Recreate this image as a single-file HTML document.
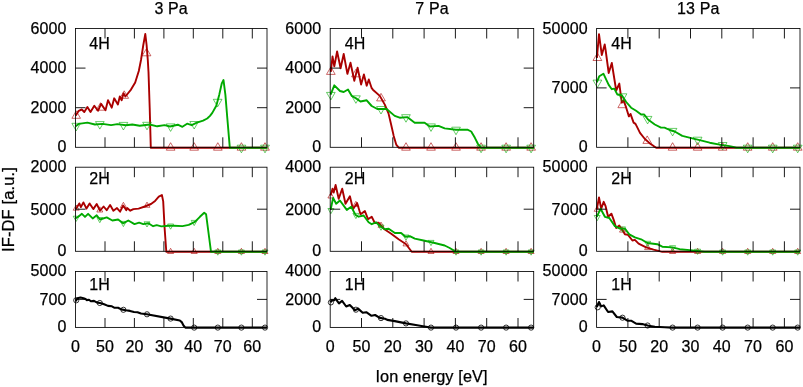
<!DOCTYPE html>
<html lang="en"><head><meta charset="utf-8"><title>IF-DF</title>
<style>html,body{margin:0;padding:0;background:#fff}svg{display:block}text{font-family:"Liberation Sans",Arial,Helvetica,sans-serif;font-size:16px;fill:#000;stroke:#000;stroke-width:0.25px;letter-spacing:0.12px}</style></head><body>
<svg width="803" height="387" viewBox="0 0 803 387">
<rect width="803" height="387" fill="#fff"/>
<text x="171.2" y="13.9" text-anchor="middle">3 Pa</text>
<text x="66.6" y="152" text-anchor="end">0</text>
<text x="66.6" y="112.6" text-anchor="end">2000</text>
<text x="66.6" y="73.3" text-anchor="end">4000</text>
<text x="66.6" y="33.8" text-anchor="end">6000</text>
<g><path d="M75.6 115.8L78.7 110.8L81.8 109.5L84.3 112L87.4 107L90.5 112L94.3 105.8L98 110.8L101.1 103.9L105.5 110.2L108 100.2L111.7 107.7L114.2 98.3L117.9 104.5L119.8 96.5L121.7 100.2L123.5 93.3L125.4 96.5L131 89.6L135.2 82.5L138.8 71L141 60L143.3 45L145.3 34L146.6 45L147.8 60L148.5 72L149.7 108L150.8 147.7L267 147.7" fill="none" stroke="#aa0000" stroke-width="1.9" stroke-linejoin="round" stroke-linecap="butt"/><path d="M76.2 110.8L71.9 118.3L80.5 118.3ZM100.5 102.7L96.2 110.2L104.8 110.2ZM124.2 90.8L119.9 98.3L128.6 98.3ZM146.6 48.3L142.2 55.8L150.9 55.8ZM170.6 142.7L166.3 150.2L175 150.2ZM194.2 142.7L189.8 150.2L198.5 150.2ZM217.8 142.7L213.5 150.2L222.2 150.2ZM241.4 142.7L237.1 150.2L245.8 150.2ZM265 142.7L260.6 150.2L269.4 150.2Z" fill="none" stroke="#aa0000" stroke-width="0.6"/><path d="M75.6 126.3L78.7 123.9L87.4 122.6L94.9 124.5L102.4 123.9L111.1 125.1L117.3 124.1L126 125.3L132.3 124.5L139.7 125.7L149.7 124.5L157.2 126.3L164.6 125.1L170 126.5L177.8 124.7L182.4 126.8L187.1 123.7L191.7 125.2L196.9 122.7L203.1 120.6L207.2 118.5L210 115.9L212.3 112.9L216.3 105.7L219.2 94.9L221.7 83.7L223.5 80L225.4 94.9L227.3 118L229.8 147.7L267 147.7" fill="none" stroke="#00aa00" stroke-width="1.9" stroke-linejoin="round" stroke-linecap="butt"/><path d="M76.2 130.9L71.9 123.3L80.5 123.3ZM99.8 129.1L95.5 121.6L104.2 121.6ZM123.4 130L119.1 122.4L127.8 122.4ZM147 129.8L142.7 122.3L151.3 122.3ZM170.6 131.4L166.3 123.9L175 123.9ZM194.2 129L189.8 121.5L198.5 121.5ZM217.7 106.8L213.3 99.3L222 99.3ZM241.4 152.8L237.1 145.2L245.8 145.2ZM265 152.8L260.6 145.2L269.4 145.2Z" fill="none" stroke="#00aa00" stroke-width="0.6"/><path d="M105 147.3v-10M105 28.5v10M134.4 147.3v-10M134.4 28.5v10M163.9 147.3v-10M163.9 28.5v10M193.3 147.3v-10M193.3 28.5v10M222.8 147.3v-10M222.8 28.5v10M252.3 147.3v-10M252.3 28.5v10M75.5 107.7h10M267 107.7h-10M75.5 68.1h10M267 68.1h-10" fill="none" stroke="#000" stroke-width="0.9"/><rect x="75.5" y="28.5" width="191.5" height="118.8" fill="none" stroke="#000" stroke-width="0.85"/></g>
<text x="89.3" y="48.7">4H</text>
<text x="66.6" y="256" text-anchor="end">0</text>
<text x="66.6" y="214.7" text-anchor="end">5000</text>
<text x="66.6" y="171.9" text-anchor="end">2000</text>
<g><path d="M75.7 209.3L79.3 203.4L80.9 207.1L83.4 202.4L86.5 208.6L89.6 203.4L93.3 209.1L96.7 204L100 210.7L103.6 206.5L106.7 210.2L110.1 205L113.4 210.7L117 208.1L120.1 211.7L123.2 205.5L126.3 210.2L127.2 208.1L130.3 210.7L133.4 209.1L138.6 208.6L144.8 206.5L151 204L155.1 200.9L158.8 196.7L161.9 195L163.2 201.4L164.6 228L166.3 251.8L267 251.8" fill="none" stroke="#aa0000" stroke-width="1.9" stroke-linejoin="round" stroke-linecap="butt"/><path d="M76.2 205L73.2 210.2L79.2 210.2ZM99.8 206.8L96.8 212L102.8 212ZM123.4 202.3L120.4 207.5L126.4 207.5ZM147 202.1L144 207.3L150 207.3ZM170.6 248.3L167.6 253.5L173.6 253.5ZM194.2 248.3L191.2 253.5L197.2 253.5ZM217.8 248.3L214.8 253.5L220.8 253.5ZM241.4 248.3L238.4 253.5L244.4 253.5ZM265 248.3L262 253.5L268 253.5Z" fill="none" stroke="#aa0000" stroke-width="0.6"/><path d="M75.7 218.2L78.5 216.5L81.9 213.8L85 216.9L88.1 213.8L92.7 218.4L96.7 215.3L100 219.5L106.7 217.4L112.4 220.5L118.1 219.5L123.1 223.3L128.3 220.5L134.5 224.1L139.1 222.6L143.3 224.1L148.4 223.3L153.1 226.2L156.7 225.1L161.3 226.4L168.6 225.7L173.7 225.7L182.5 226.1L188.7 224.9L194.9 221.8L199.9 216.8L204.2 212.8L206.1 214.3L209.2 238L211 251.8L267 251.8" fill="none" stroke="#00aa00" stroke-width="1.9" stroke-linejoin="round" stroke-linecap="butt"/><path d="M76.2 221.4L73.2 216.2L79.2 216.2ZM99.8 222.7L96.8 217.5L102.8 217.5ZM123.4 226.6L120.4 221.4L126.4 221.4ZM147 227L144 221.8L150 221.8ZM170.6 229.2L167.6 224L173.6 224ZM194.2 225.6L191.2 220.4L197.2 220.4ZM217.8 255.2L214.8 250L220.8 250ZM241.4 255.2L238.4 250L244.4 250ZM265 255.2L262 250L268 250Z" fill="none" stroke="#00aa00" stroke-width="0.6"/><path d="M105 251.3v-10M105 167.2v10M134.4 251.3v-10M134.4 167.2v10M163.9 251.3v-10M163.9 167.2v10M193.3 251.3v-10M193.3 167.2v10M222.8 251.3v-10M222.8 167.2v10M252.3 251.3v-10M252.3 167.2v10M75.5 209.2h10M267 209.2h-10" fill="none" stroke="#000" stroke-width="0.9"/><rect x="75.5" y="167.2" width="191.5" height="84.1" fill="none" stroke="#000" stroke-width="0.85"/></g>
<text x="89.3" y="183.5">2H</text>
<text x="66.6" y="332.1" text-anchor="end">0</text>
<text x="66.6" y="304.5" text-anchor="end">700</text>
<text x="66.6" y="276.4" text-anchor="end">5000</text>
<g><path d="M75.7 301.2L77.4 298.3L80.5 297.5L83.5 298.2L85.5 298.9L86.7 300.1L89 299.7L90.9 301.2L94 300.9L96.7 302.4L101 303.2L104.1 304.3L108 305.9L111.9 306.3L114.6 307.8L118.1 307.8L121.2 309.4L125.8 310.3L130 310.9L134 312L137.5 312.2L141 313.5L146.8 314.3L170.5 318.6L179.8 320.5L181.7 322.1L183.5 325.5L185.4 327.6L267 327.6" fill="none" stroke="#000000" stroke-width="2.1" stroke-linejoin="round" stroke-linecap="butt"/><path d="M73.6 300.3a2.6 2.6 0 1 0 5.2 0a2.6 2.6 0 1 0 -5.2 0ZM97.2 303a2.6 2.6 0 1 0 5.2 0a2.6 2.6 0 1 0 -5.2 0ZM120.8 309.8a2.6 2.6 0 1 0 5.2 0a2.6 2.6 0 1 0 -5.2 0ZM144.4 314.3a2.6 2.6 0 1 0 5.2 0a2.6 2.6 0 1 0 -5.2 0ZM168 318.6a2.6 2.6 0 1 0 5.2 0a2.6 2.6 0 1 0 -5.2 0ZM191.6 327.6a2.6 2.6 0 1 0 5.2 0a2.6 2.6 0 1 0 -5.2 0ZM215.2 327.6a2.6 2.6 0 1 0 5.2 0a2.6 2.6 0 1 0 -5.2 0ZM238.8 327.6a2.6 2.6 0 1 0 5.2 0a2.6 2.6 0 1 0 -5.2 0ZM262.4 327.6a2.6 2.6 0 1 0 5.2 0a2.6 2.6 0 1 0 -5.2 0Z" fill="none" stroke="#000000" stroke-width="0.8"/><path d="M105 327.4v-9.4M105 271.5v10M134.4 327.4v-9.4M134.4 271.5v10M163.9 327.4v-9.4M163.9 271.5v10M193.3 327.4v-9.4M193.3 271.5v10M222.8 327.4v-9.4M222.8 271.5v10M252.3 327.4v-9.4M252.3 271.5v10M75.5 299.4h10M267 299.4h-10" fill="none" stroke="#000" stroke-width="0.9"/><rect x="75.5" y="271.5" width="191.5" height="55.9" fill="none" stroke="#000" stroke-width="0.85"/></g>
<text x="89.3" y="289.5">1H</text>
<text x="75.5" y="352.1" text-anchor="middle">0</text>
<text x="105" y="352.1" text-anchor="middle">50</text>
<text x="134.4" y="352.1" text-anchor="middle">20</text>
<text x="163.9" y="352.1" text-anchor="middle">30</text>
<text x="193.3" y="352.1" text-anchor="middle">40</text>
<text x="222.8" y="352.1" text-anchor="middle">70</text>
<text x="252.3" y="352.1" text-anchor="middle">60</text>
<text x="432" y="13.9" text-anchor="middle">7 Pa</text>
<text x="321.3" y="152" text-anchor="end">0</text>
<text x="321.3" y="112.6" text-anchor="end">2000</text>
<text x="321.3" y="73.3" text-anchor="end">4000</text>
<text x="321.3" y="33.8" text-anchor="end">6000</text>
<g><path d="M330.8 71.8L332.5 56.5L334.3 66.4L337.1 51.5L340.6 68.3L343.7 54L347.4 73.9L350.5 62.7L354.3 80.7L357.6 67.7L361.1 84.5L363.9 74.5L366.7 85.7L368.8 79.5L371.7 88.2L372.9 89.7L379.8 95.9L384.8 104.6L388.5 113.4L391 124L393.7 135.9L396.2 144.6L398.7 147.7L533.7 147.7" fill="none" stroke="#aa0000" stroke-width="1.9" stroke-linejoin="round" stroke-linecap="butt"/><path d="M330.9 66.9L326.5 74.4L335.2 74.4ZM355.9 69.3L351.6 76.8L360.3 76.8ZM381 93.4L376.6 100.9L385.4 100.9ZM406 142.7L401.6 150.2L410.3 150.2ZM431 142.7L426.7 150.2L435.4 150.2ZM456 142.7L451.7 150.2L460.4 150.2ZM481.1 142.7L476.7 150.2L485.4 150.2ZM506.1 142.7L501.8 150.2L510.5 150.2ZM531.1 142.7L526.8 150.2L535.5 150.2Z" fill="none" stroke="#aa0000" stroke-width="0.6"/><path d="M330.6 94.7L334.3 85.3L340 91L343.7 92L348 89.5L351.8 96L356.1 98.4L360.5 101.5L366.7 100.3L371.7 106L377.3 109L386.6 109L394.7 115.9L399.7 117.7L407.2 117.1L414.7 122.7L424.6 122.7L429.8 126.5L438.5 125.9L444.7 128.4L455.9 129.7L467.4 129.7L471.2 131.5L474.9 137.8L478 144L481.1 147.7L533.7 147.7" fill="none" stroke="#00aa00" stroke-width="1.9" stroke-linejoin="round" stroke-linecap="butt"/><path d="M330.9 99.9L326.5 92.4L335.2 92.4ZM355.9 103.3L351.6 95.8L360.3 95.8ZM381 114L376.6 106.5L385.3 106.5ZM406 122.2L401.6 114.7L410.3 114.7ZM431 131.4L426.7 123.9L435.4 123.9ZM456 134.7L451.7 127.2L460.4 127.2ZM481.1 152.7L476.7 145.2L485.4 145.2ZM506.1 152.8L501.8 145.2L510.5 145.2ZM531.1 152.8L526.8 145.2L535.5 145.2Z" fill="none" stroke="#00aa00" stroke-width="0.6"/><path d="M361.5 147.3v-10M361.5 28.5v10M392.8 147.3v-10M392.8 28.5v10M424.1 147.3v-10M424.1 28.5v10M455.4 147.3v-10M455.4 28.5v10M486.7 147.3v-10M486.7 28.5v10M518 147.3v-10M518 28.5v10M330.2 107.7h10M533.7 107.7h-10M330.2 68.1h10M533.7 68.1h-10" fill="none" stroke="#000" stroke-width="0.9"/><rect x="330.2" y="28.5" width="203.5" height="118.8" fill="none" stroke="#000" stroke-width="0.85"/></g>
<text x="344.8" y="48.7">4H</text>
<text x="321.3" y="256" text-anchor="end">0</text>
<text x="321.3" y="214.7" text-anchor="end">2000</text>
<text x="321.3" y="171.9" text-anchor="end">4000</text>
<g><path d="M330.6 195.6L332.5 188.7L333.7 192.5L335.6 185L338.7 198.7L342.2 188.7L345.5 203.7L349.9 196.2L353 209.3L357.1 203L360.5 214.2L364.9 211.1L368 219.2L371.7 216.7L374.8 223L378.5 222.7L383.7 228.7L391.2 233.7L398.6 239.3L406.1 244.2L409.8 249.2L411.7 251.8L533.7 251.8" fill="none" stroke="#aa0000" stroke-width="1.9" stroke-linejoin="round" stroke-linecap="butt"/><path d="M330.9 192.8L327.9 198L333.9 198ZM355.9 201.3L352.9 206.5L358.9 206.5ZM381 222.1L378 227.3L384 227.3ZM406 240.7L403 245.9L409 245.9ZM431 248.3L428 253.5L434 253.5ZM456 248.3L453 253.5L459 253.5ZM481.1 248.3L478.1 253.5L484.1 253.5ZM506.1 248.3L503.1 253.5L509.1 253.5ZM531.1 248.3L528.1 253.5L534.1 253.5Z" fill="none" stroke="#aa0000" stroke-width="0.6"/><path d="M330.6 209.9L333.1 198L336.2 203.7L339.9 200.5L346.8 209.9L351.2 206.8L355.5 214.9L358.6 216.7L363.6 215.5L368.6 222.3L371.7 224.2L376.1 222.3L380 226.2L385 229.3L388.7 228.7L394.9 233L401.1 233L405.5 236.8L409.8 236.2L414.8 238.6L423.5 240.5L434.7 243L444.7 245.5L449.7 248L453.4 250.3L454.7 251.8L533.7 251.8" fill="none" stroke="#00aa00" stroke-width="1.9" stroke-linejoin="round" stroke-linecap="butt"/><path d="M330.9 213.7L327.9 208.5L333.9 208.5ZM355.9 218.6L352.9 213.4L358.9 213.4ZM381 230.3L378 225.1L384 225.1ZM406 240.2L403 235L409 235ZM431 245.6L428 240.4L434 240.4ZM456 255.2L453 250L459 250ZM481.1 255.2L478.1 250L484.1 250ZM506.1 255.2L503.1 250L509.1 250ZM531.1 255.2L528.1 250L534.1 250Z" fill="none" stroke="#00aa00" stroke-width="0.6"/><path d="M361.5 251.3v-10M361.5 167.2v10M392.8 251.3v-10M392.8 167.2v10M424.1 251.3v-10M424.1 167.2v10M455.4 251.3v-10M455.4 167.2v10M486.7 251.3v-10M486.7 167.2v10M518 251.3v-10M518 167.2v10M330.2 209.2h10M533.7 209.2h-10" fill="none" stroke="#000" stroke-width="0.9"/><rect x="330.2" y="167.2" width="203.5" height="84.1" fill="none" stroke="#000" stroke-width="0.85"/></g>
<text x="344.8" y="183.5">2H</text>
<text x="321.3" y="332.1" text-anchor="end">0</text>
<text x="321.3" y="304.5" text-anchor="end">2000</text>
<text x="321.3" y="276.4" text-anchor="end">4000</text>
<g><path d="M330.4 302.2L332.2 300.3L334.2 300.2L335.3 298.2L336.4 299.9L339 303.4L342.1 300.9L346.2 306.5L349.8 305L355 310.2L358.1 308.6L362.7 312.7L366.3 312.2L371.5 315.8L375.1 315L379.8 317.9L385 318.7L387.3 319.9L394.8 321.1L406 323.4L417.2 325.2L425.9 326.7L430.9 327.6L533.7 327.6" fill="none" stroke="#000000" stroke-width="2.1" stroke-linejoin="round" stroke-linecap="butt"/><path d="M328.3 302.4a2.6 2.6 0 1 0 5.2 0a2.6 2.6 0 1 0 -5.2 0ZM353.3 309.7a2.6 2.6 0 1 0 5.2 0a2.6 2.6 0 1 0 -5.2 0ZM378.4 318.1a2.6 2.6 0 1 0 5.2 0a2.6 2.6 0 1 0 -5.2 0ZM403.4 323.4a2.6 2.6 0 1 0 5.2 0a2.6 2.6 0 1 0 -5.2 0ZM428.4 327.6a2.6 2.6 0 1 0 5.2 0a2.6 2.6 0 1 0 -5.2 0ZM453.4 327.6a2.6 2.6 0 1 0 5.2 0a2.6 2.6 0 1 0 -5.2 0ZM478.5 327.6a2.6 2.6 0 1 0 5.2 0a2.6 2.6 0 1 0 -5.2 0ZM503.5 327.6a2.6 2.6 0 1 0 5.2 0a2.6 2.6 0 1 0 -5.2 0ZM528.5 327.6a2.6 2.6 0 1 0 5.2 0a2.6 2.6 0 1 0 -5.2 0Z" fill="none" stroke="#000000" stroke-width="0.8"/><path d="M361.5 327.4v-9.4M361.5 271.5v10M392.8 327.4v-9.4M392.8 271.5v10M424.1 327.4v-9.4M424.1 271.5v10M455.4 327.4v-9.4M455.4 271.5v10M486.7 327.4v-9.4M486.7 271.5v10M518 327.4v-9.4M518 271.5v10M330.2 299.4h10M533.7 299.4h-10" fill="none" stroke="#000" stroke-width="0.9"/><rect x="330.2" y="271.5" width="203.5" height="55.9" fill="none" stroke="#000" stroke-width="0.85"/></g>
<text x="344.8" y="289.5">1H</text>
<text x="330.2" y="352.1" text-anchor="middle">0</text>
<text x="361.5" y="352.1" text-anchor="middle">50</text>
<text x="392.8" y="352.1" text-anchor="middle">20</text>
<text x="424.1" y="352.1" text-anchor="middle">30</text>
<text x="455.4" y="352.1" text-anchor="middle">40</text>
<text x="486.7" y="352.1" text-anchor="middle">70</text>
<text x="518" y="352.1" text-anchor="middle">60</text>
<text x="698.3" y="13.9" text-anchor="middle">13 Pa</text>
<text x="587.7" y="152" text-anchor="end">0</text>
<text x="587.7" y="92.9" text-anchor="end">7000</text>
<text x="587.7" y="33.8" text-anchor="end">50000</text>
<g><path d="M596.9 58L599 34.2L601.8 55.1L604.7 44.5L605.6 50L608.7 73L611.8 63L616.2 90.5L619.3 83.6L621.8 102.7L623.7 100.2L626.2 107.7L628.9 116.4L630.5 113.9L633.6 122.6L635.5 123.9L637.4 127.6L640 132.8L644.9 139L649.9 143.4L653.7 146.1L656.2 147.7L800 147.7" fill="none" stroke="#aa0000" stroke-width="1.9" stroke-linejoin="round" stroke-linecap="butt"/><path d="M597.4 53L593 60.5L601.8 60.5ZM622.2 100.2L617.9 107.7L626.6 107.7ZM647.2 135.9L642.9 143.4L651.6 143.4ZM672.6 142.7L668.2 150.2L676.9 150.2ZM697.6 142.7L693.3 150.2L702 150.2ZM722.6 142.7L718.3 150.2L727 150.2ZM747.7 142.7L743.3 150.2L752 150.2ZM772.7 142.7L768.4 150.2L777.1 150.2ZM797.7 142.7L793.4 150.2L802.1 150.2Z" fill="none" stroke="#aa0000" stroke-width="0.6"/><path d="M596.8 82.4L599.3 76.2L603.4 73.7L608.7 84.9L611.8 89.2L614.3 88.6L617.4 94.6L621.8 95.2L626.2 102L631.1 107.7L636.1 110.8L641.1 114.5L644.2 114.5L648 119.5L654.8 124.5L661 127.6L664.5 127.6L669.7 130L674.7 131.5L682.3 135.9L692.3 138.4L699.7 140.2L709.7 142.7L719.7 144.6L729.6 146.1L736.6 147.7L800 147.7" fill="none" stroke="#00aa00" stroke-width="1.9" stroke-linejoin="round" stroke-linecap="butt"/><path d="M597.4 87.6L593 80.1L601.8 80.1ZM622.5 101.4L618.2 93.8L626.9 93.8ZM647.6 123.9L643.2 116.4L651.9 116.4ZM672.6 135.9L668.2 128.4L676.9 128.4ZM697.6 144.7L693.3 137.2L702 137.2ZM722.6 150.1L718.3 142.5L727 142.5ZM747.7 152.8L743.3 145.2L752 145.2ZM772.7 152.8L768.4 145.2L777.1 145.2ZM797.7 152.8L793.4 145.2L802.1 145.2Z" fill="none" stroke="#00aa00" stroke-width="0.6"/><path d="M627.9 147.3v-10M627.9 28.5v10M659.2 147.3v-10M659.2 28.5v10M690.5 147.3v-10M690.5 28.5v10M721.8 147.3v-10M721.8 28.5v10M753.1 147.3v-10M753.1 28.5v10M784.4 147.3v-10M784.4 28.5v10M596.6 87.9h10M800 87.9h-10" fill="none" stroke="#000" stroke-width="0.9"/><rect x="596.6" y="28.5" width="203.4" height="118.8" fill="none" stroke="#000" stroke-width="0.85"/></g>
<text x="611.2" y="48.7">4H</text>
<text x="587.7" y="256" text-anchor="end">0</text>
<text x="587.7" y="214.7" text-anchor="end">7000</text>
<text x="587.7" y="171.9" text-anchor="end">50000</text>
<g><path d="M596.8 209.3L599 197.5L601.2 208.7L603.7 201.8L605.6 206.2L608.1 216.8L611.4 213.7L613.7 219.9L616.2 228L619.3 225.5L623 231.1L624.9 234.3L628 234.9L632.4 240.5L634.9 239.9L638.6 243.6L646.1 247.4L653.6 249.6L662.3 251.8L800 251.8" fill="none" stroke="#aa0000" stroke-width="1.9" stroke-linejoin="round" stroke-linecap="butt"/><path d="M597.2 206.1L594.2 211.3L600.2 211.3ZM622.5 226.9L619.5 232.1L625.5 232.1ZM647.6 244.4L644.6 249.6L650.6 249.6ZM672.6 248.3L669.6 253.5L675.6 253.5ZM697.6 248.3L694.6 253.5L700.6 253.5ZM722.6 248.3L719.6 253.5L725.6 253.5ZM747.7 248.3L744.7 253.5L750.7 253.5ZM772.7 248.3L769.7 253.5L775.7 253.5ZM797.7 248.3L794.7 253.5L800.7 253.5Z" fill="none" stroke="#aa0000" stroke-width="0.6"/><path d="M596.8 216.8L600.6 208.7L604.9 216.8L609.3 218L614.9 226.1L619.9 228.6L624.9 228.6L629.3 234.3L634.9 237.4L641.1 239.3L647.4 243L657.3 244.2L662.3 246.7L672.3 247.4L679.7 249.2L689.7 250.1L704.6 251.8L800 251.8" fill="none" stroke="#00aa00" stroke-width="1.9" stroke-linejoin="round" stroke-linecap="butt"/><path d="M597.2 220.7L594.2 215.5L600.2 215.5ZM622.5 232.1L619.5 226.9L625.5 226.9ZM647.6 246.5L644.6 241.3L650.6 241.3ZM672.6 250.9L669.6 245.7L675.6 245.7ZM697.6 254.4L694.6 249.2L700.6 249.2ZM722.6 255.2L719.6 250L725.6 250ZM747.7 255.2L744.7 250L750.7 250ZM772.7 255.2L769.7 250L775.7 250ZM797.7 255.2L794.7 250L800.7 250Z" fill="none" stroke="#00aa00" stroke-width="0.6"/><path d="M627.9 251.3v-10M627.9 167.2v10M659.2 251.3v-10M659.2 167.2v10M690.5 251.3v-10M690.5 167.2v10M721.8 251.3v-10M721.8 167.2v10M753.1 251.3v-10M753.1 167.2v10M784.4 251.3v-10M784.4 167.2v10M596.6 209.2h10M800 209.2h-10" fill="none" stroke="#000" stroke-width="0.9"/><rect x="596.6" y="167.2" width="203.4" height="84.1" fill="none" stroke="#000" stroke-width="0.85"/></g>
<text x="611.2" y="183.5">2H</text>
<text x="587.7" y="332.1" text-anchor="end">0</text>
<text x="587.7" y="304.5" text-anchor="end">7000</text>
<text x="587.7" y="276.4" text-anchor="end">50000</text>
<g><path d="M596.8 307L599 302L601.2 306.4L603.7 305.4L608.1 312L612.4 311.4L616.8 317L622.4 317.6L627.4 320.7L631.1 320.7L636.1 323.6L642.3 324.1L648.5 325.7L654.8 326.7L664.7 327.2L672.2 327.6L800 327.6" fill="none" stroke="#000000" stroke-width="2.1" stroke-linejoin="round" stroke-linecap="butt"/><path d="M595.1 307.3a2.6 2.6 0 1 0 5.2 0a2.6 2.6 0 1 0 -5.2 0ZM619.9 317.7a2.6 2.6 0 1 0 5.2 0a2.6 2.6 0 1 0 -5.2 0ZM645 325.5a2.6 2.6 0 1 0 5.2 0a2.6 2.6 0 1 0 -5.2 0ZM670 327.6a2.6 2.6 0 1 0 5.2 0a2.6 2.6 0 1 0 -5.2 0ZM695 327.6a2.6 2.6 0 1 0 5.2 0a2.6 2.6 0 1 0 -5.2 0ZM720 327.6a2.6 2.6 0 1 0 5.2 0a2.6 2.6 0 1 0 -5.2 0ZM745.1 327.6a2.6 2.6 0 1 0 5.2 0a2.6 2.6 0 1 0 -5.2 0ZM770.1 327.6a2.6 2.6 0 1 0 5.2 0a2.6 2.6 0 1 0 -5.2 0ZM795.1 327.6a2.6 2.6 0 1 0 5.2 0a2.6 2.6 0 1 0 -5.2 0Z" fill="none" stroke="#000000" stroke-width="0.8"/><path d="M627.9 327.4v-9.4M627.9 271.5v10M659.2 327.4v-9.4M659.2 271.5v10M690.5 327.4v-9.4M690.5 271.5v10M721.8 327.4v-9.4M721.8 271.5v10M753.1 327.4v-9.4M753.1 271.5v10M784.4 327.4v-9.4M784.4 271.5v10M596.6 299.4h10M800 299.4h-10" fill="none" stroke="#000" stroke-width="0.9"/><rect x="596.6" y="271.5" width="203.4" height="55.9" fill="none" stroke="#000" stroke-width="0.85"/></g>
<text x="611.2" y="289.5">1H</text>
<text x="596.6" y="352.1" text-anchor="middle">0</text>
<text x="627.9" y="352.1" text-anchor="middle">50</text>
<text x="659.2" y="352.1" text-anchor="middle">20</text>
<text x="690.5" y="352.1" text-anchor="middle">30</text>
<text x="721.8" y="352.1" text-anchor="middle">40</text>
<text x="753.1" y="352.1" text-anchor="middle">70</text>
<text x="784.4" y="352.1" text-anchor="middle">60</text>
<text x="431.6" y="381.5" text-anchor="middle" style="font-size:16.3px">Ion energy [eV]</text>
<text transform="translate(13.6 209.5) rotate(-90)" text-anchor="middle" style="font-size:16.5px">IF-DF [a.u.]</text>
</svg></body></html>
